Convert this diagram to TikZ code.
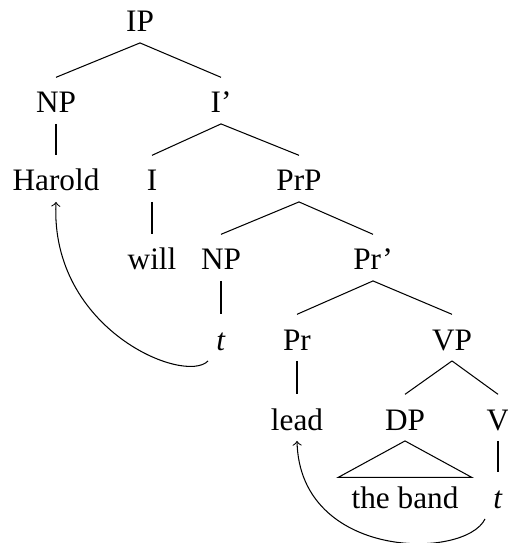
\documentclass[tikz,border=0pt]{standalone}
\usepackage{fontspec}
\setmainfont{Liberation Serif}

\begin{document}
\begin{tikzpicture}[x=0.384pt,y=-0.384pt,font=\fontsize{12}{14}\selectfont,
    every node/.style={anchor=base,inner xsep=3pt,inner ysep=4pt,
      text height=9.5pt,text depth=0pt}]
  \useasboundingbox (0,0) rectangle (508,543);
  % nodes, row by row
  \node (ip) at (140,32) {IP};
  \node (np1) at (56,113) {NP};
  \node (ibar) at (221,113) {I'};
  \node (harold) at (56,191) {Harold};
  \node (i) at (152,191) {I};
  \node (prp) at (299,191) {PrP};
  \node (will) at (152,270) {will};
  \node (np2) at (221,270) {NP};
  \node (prbar) at (373,270) {Pr'};
  \node (t1) at (221,350) {\textit{t}};
  \node (pr) at (297,350) {Pr};
  \node (vp) at (452,350) {VP};
  \node (lead) at (297,430) {lead};
  \node (dp) at (405,430) {DP};
  \node (v) at (498,430) {V};
  \node (band) at (405,508) {the band};
  \node (t2) at (498,508) {\textit{t}};
  % branches
  \draw (ip.south) -- (np1.north);
  \draw (ip.south) -- (ibar.north);
  \draw (np1.south) -- (harold.north);
  \draw (ibar.south) -- (i.north);
  \draw (ibar.south) -- (prp.north);
  \draw (i.south) -- (will.north);
  \draw (prp.south) -- (np2.north);
  \draw (prp.south) -- (prbar.north);
  \draw (np2.south) -- (t1.north);
  \draw (prbar.south) -- (pr.north);
  \draw (prbar.south) -- (vp.north);
  \draw (pr.south) -- (lead.north);
  \draw (vp.south) -- (dp.north);
  \draw (vp.south) -- (v.north);
  \draw (v.south) -- (t2.north);
  \draw (dp.south) -- ([shift={(-5,5)}]band.north west)
    -- ([shift={(5,5)}]band.north east) -- cycle;
  % movement arrows
  \draw[->] (t1.south west) .. controls (185,385) and (50,330) .. (harold.south);
  \draw[->] (t2.south west) .. controls (465,560) and (300,560) .. (lead.south);
\end{tikzpicture}
\end{document}
